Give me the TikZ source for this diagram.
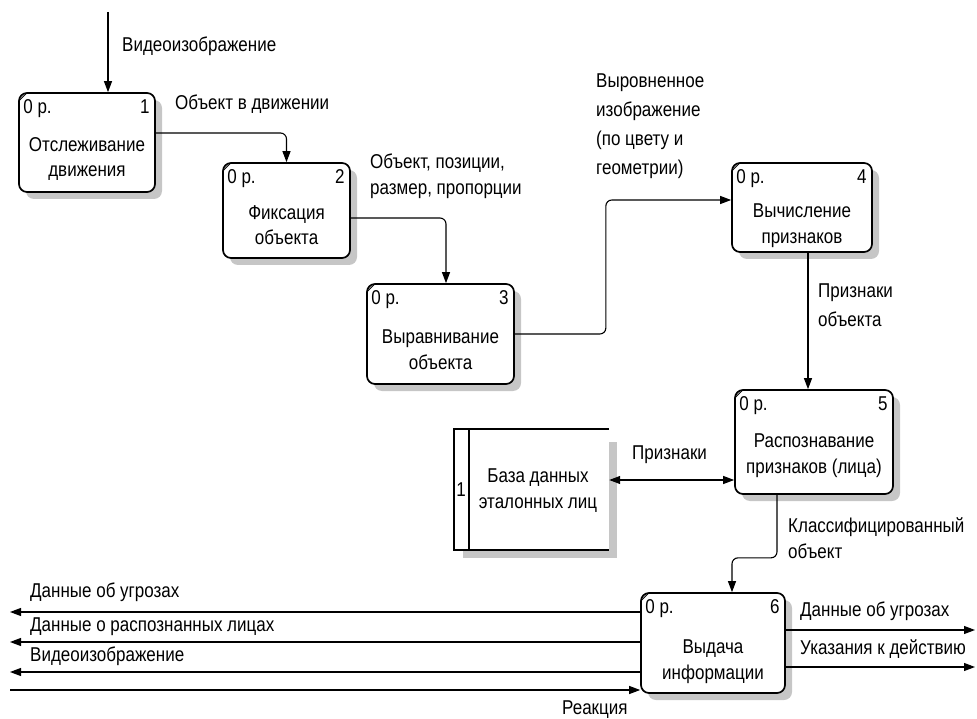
\documentclass[tikz,border=0pt]{standalone}
\usepackage{fontspec}
\setmainfont{Liberation Sans}[FakeStretch=0.85]
\usetikzlibrary{arrows.meta,shadows}

\newcommand\dfdfont{\fontsize{20}{26}\selectfont}

\tikzset{
  proc/.style={draw, line width=1.7pt, rounded corners=8pt, fill=white,
    drop shadow={shadow xshift=7pt, shadow yshift=-7pt, fill=gray!45, opacity=1}},
  flow/.style={line width=1.1pt, rounded corners=6pt,
    -{Triangle[length=11pt,width=8pt]}},
  dflow/.style={line width=1.1pt,
    {Triangle[length=11pt,width=8pt]}-{Triangle[length=11pt,width=8pt]}},
  lbl/.style={anchor=base west, inner sep=0pt},
  mlbl/.style={anchor=north west, inner sep=0pt, align=left},
  btxt/.style={anchor=north, inner sep=0pt, align=center,
    font=\fontsize{20}{25.5}\selectfont},
  tagl/.style={anchor=base west, inner sep=0pt},
  tagr/.style={anchor=base east, inner sep=0pt},
  corner/.style={line width=0.8pt}
}

\begin{document}
\begin{tikzpicture}[x=1pt, y=-1pt, font=\dfdfont]
\useasboundingbox (0,0) rectangle (977,719);

% ---- processes ----
\node[proc, minimum width=136pt, minimum height=99pt]  (b1) at (87,142.5) {};
\node[proc, minimum width=127pt, minimum height=95pt]  (b2) at (286.5,210.5) {};
\node[proc, minimum width=147pt, minimum height=100pt] (b3) at (440.5,334) {};
\node[proc, minimum width=140pt, minimum height=89pt]  (b4) at (802,207.5) {};
\node[proc, minimum width=158pt, minimum height=104pt] (b5) at (814,442) {};
\node[proc, minimum width=144pt, minimum height=100pt] (b6) at (713,643) {};

% small mark in the top left corner of each process
\foreach \b in {b1,b2,b3,b4,b5,b6}{
  \draw[corner] ([shift={(1.5pt,-8pt)}]\b.north west) -- ([shift={(8pt,-1.5pt)}]\b.north west);
}

% cost and number of each process
\foreach \b/\n in {b1/1,b2/2,b3/3,b4/4,b5/5,b6/6}{
  \node[tagl] (\b c) at ([shift={(5pt,-21pt)}]\b.north west) {0 р.};
  \node[tagr] (\b k) at ([shift={(-6pt,-21pt)}]\b.north east) {\n};
}

% process names
\node[btxt] (b1t) at (87,137)    {Отслеживание\\движения};
\node[btxt] (b2t) at (286.5,205) {Фиксация\\объекта};
\node[btxt] (b3t) at (440.5,330) {Выравнивание\\объекта};
\node[btxt] (b4t) at (802,204)   {Вычисление\\признаков};
\node[btxt] (b5t) at (814,434)   {Распознавание\\признаков (лица)};
\node[btxt] (b6t) at (713,640)   {Выдача\\информации};

% ---- data store ----
\fill[gray!45] (463,442) rectangle (617,558);
\node[fill=white, inner sep=0pt, minimum width=155pt, minimum height=121pt] (db) at (531.5,489.5) {};
\draw[line width=1.3pt] (609,429) -- (454,429) -- (454,550) -- (609,550);
\draw[line width=1.3pt] (469,429) -- (469,550);
\node[inner sep=0pt] (dbn) at (461,490) {1};
\node[btxt] (dbt) at (538,469) {База данных\\эталонных лиц};

% ---- free ends ----
\coordinate (vin) at (108,12);
\coordinate (o1) at (10,612);
\coordinate (o2) at (10,642);
\coordinate (o3) at (10,672);
\coordinate (rin) at (10,690);
\coordinate (r1) at (975,630);
\coordinate (r2) at (975,667);

% ---- connectors ----
\draw[flow] (vin) -- ([xshift=21pt]b1.north);
\draw[flow] ([yshift=9.5pt]b1.east) -| (b2.north);
\draw[flow] ([yshift=-7.5pt]b2.east) -| ([xshift=5.5pt]b3.north);
\draw[flow] (b3.east) -- ++(91,0) |- ([yshift=7.5pt]b4.west);
\draw[flow] ([xshift=6pt]b4.south) -- ([xshift=-6pt]b5.north);
\draw[dflow] ([yshift=9.5pt]db.east) -- ([yshift=-38pt]b5.west);
\draw[flow] ([xshift=-37pt]b5.south) -- ++(0,63) -| ([xshift=19pt]b6.north);
\draw[flow] ([yshift=31pt]b6.west) -- (o1);
\draw[flow] ([yshift=1pt]b6.west) -- (o2);
\draw[flow] ([yshift=-29pt]b6.west) -- (o3);
\draw[flow] (rin) -- ([yshift=-47pt]b6.west);
\draw[flow] ([yshift=13pt]b6.east) -- (r1);
\draw[flow] ([yshift=-24pt]b6.east) -- (r2);

% ---- connector labels ----
\node[lbl]  (lv)  at (122,51.5)  {Видеоизображение};
\node[lbl]  (l12) at (175,109.5) {Объект в движении};
\node[mlbl] (l23) at (370,154)   {Объект, позиции,\\размер, пропорции};
\node[mlbl, font=\fontsize{20}{28.7}\selectfont] (l34) at (596,74)
  {Выровненное\\изображение\\(по цвету и\\геометрии)};
\node[mlbl, font=\fontsize{20}{29}\selectfont] (l45) at (818,284) {Признаки\\объекта};
\node[lbl]  (ldb) at (632,459.5) {Признаки};
\node[mlbl] (l56) at (788,517)   {Классифицированный\\объект};
\node[lbl]  (lo1) at (30,597.5)  {Данные об угрозах};
\node[lbl]  (lo2) at (30,631.5)  {Данные о распознанных лицах};
\node[lbl]  (lo3) at (30,661.5)  {Видеоизображение};
\node[lbl]  (lr)  at (562,714.5) {Реакция};
\node[lbl]  (lr1) at (800,616.5) {Данные об угрозах};
\node[lbl]  (lr2) at (800,654)   {Указания к действию};
\end{tikzpicture}
\end{document}
